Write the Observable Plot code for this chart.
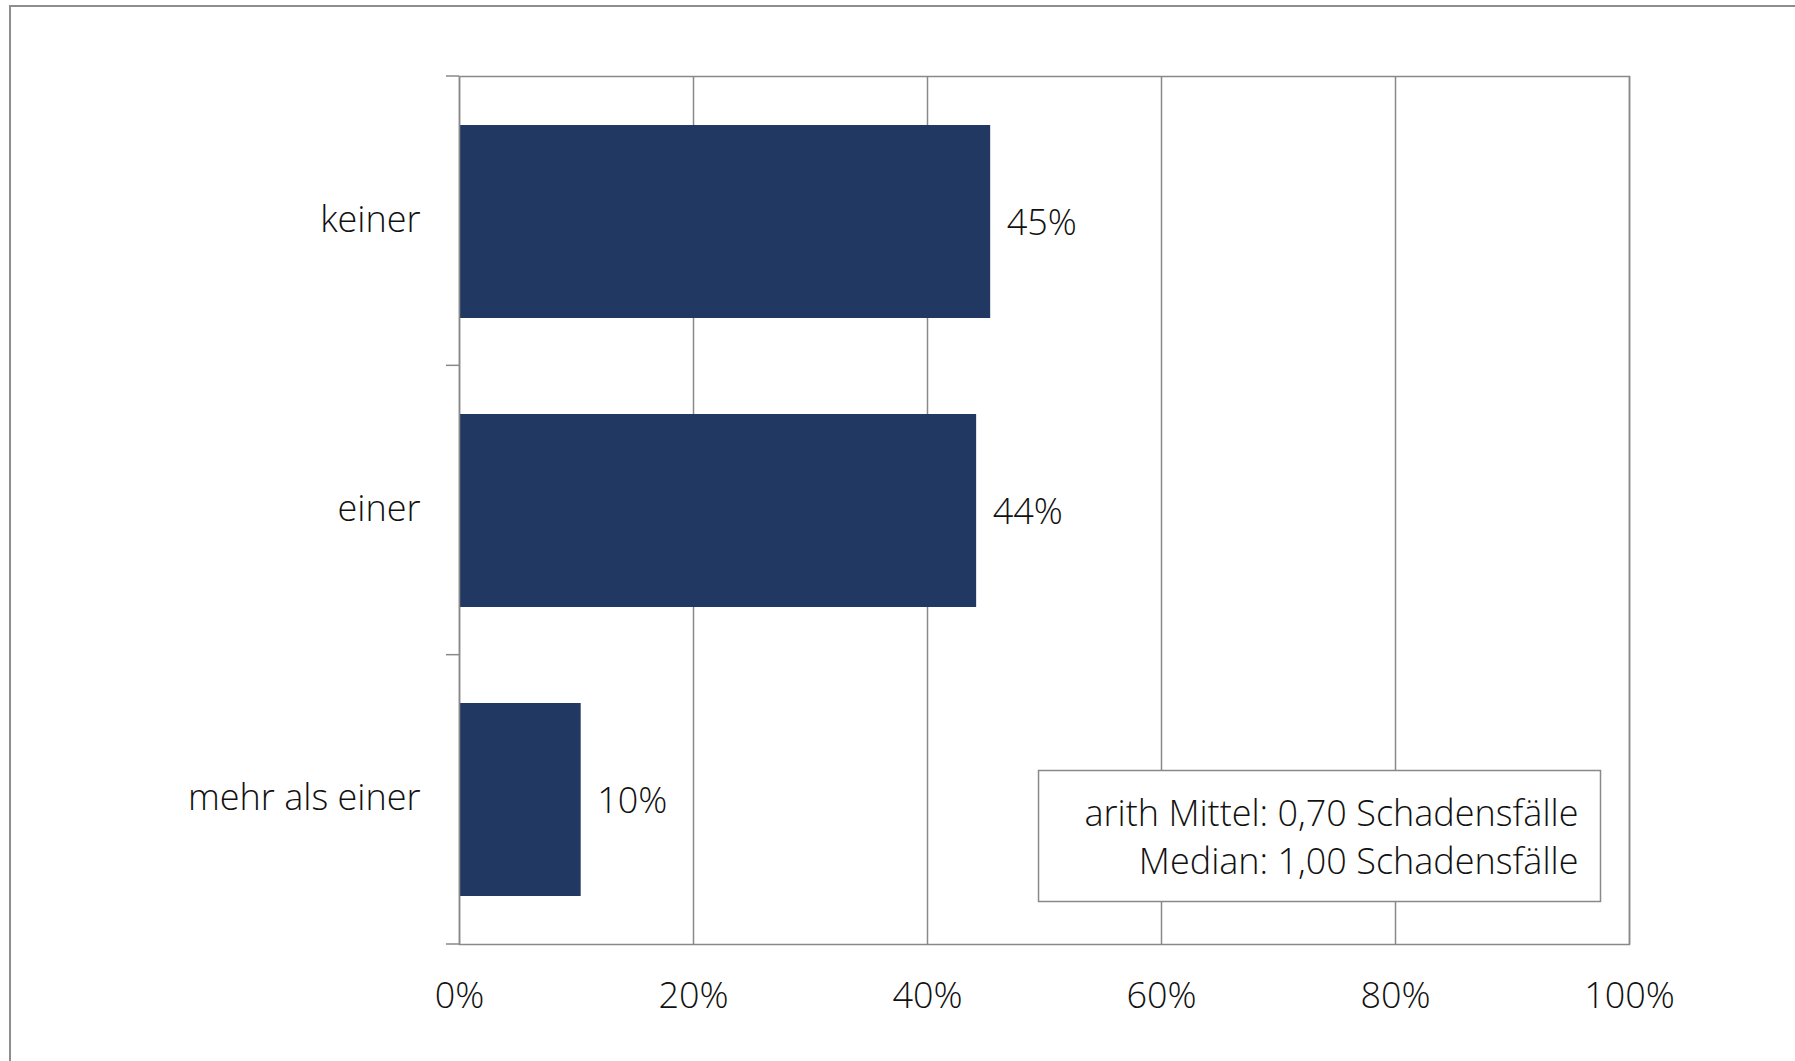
<!DOCTYPE html>
<html><head><meta charset="utf-8">
<script src="https://cdn.jsdelivr.net/npm/d3@7"></script>
<script src="https://cdn.jsdelivr.net/npm/@observablehq/plot@0.6"></script>
<style>
html,body{margin:0;padding:0;background:#fff;width:1795px;height:1061px;overflow:hidden;}
#wrap{position:relative;width:1795px;height:1061px;}
#outer{position:absolute;left:9px;top:5px;width:1900px;height:1200px;border-left:2px solid #8e8e8e;border-top:2px solid #8e8e8e;}
#chart{position:absolute;left:0;top:0;}
</style></head><body>
<div id="wrap"><div id="outer"></div><div id="chart"></div></div>
<script>
const categories = ["keiner", "einer", "mehr als einer"];
const shares = [0.454, 0.442, 0.104];
const xTicks = [0, 0.2, 0.4, 0.6, 0.8, 1];
const annotationLines = ["arith Mittel: 0,70 Schadensfälle", "Median: 1,00 Schadensfälle"];

const data = categories.map((c, i) => ({category: c, share: shares[i]}));
const pct = v => Math.round(v * 100) + "%";
const grey = "#898989";
const barColor = "#213862";
const NS = "http://www.w3.org/2000/svg";
const FS = 36;

function bandTicks(index, scales, values, dim) {
  const g = document.createElementNS(NS, "g");
  const step = (dim.height - dim.marginTop - dim.marginBottom) / categories.length;
  for (let i = 0; i <= categories.length; i++) {
    const y = dim.marginTop + i * step;
    const l = document.createElementNS(NS, "line");
    l.setAttribute("x1", dim.marginLeft - 13);
    l.setAttribute("x2", dim.marginLeft);
    l.setAttribute("y1", y);
    l.setAttribute("y2", y);
    l.setAttribute("stroke", grey);
    l.setAttribute("stroke-width", 1.5);
    g.appendChild(l);
  }
  return g;
}

const chart = Plot.plot({
  width: 1795,
  height: 1061,
  marginLeft: 459,
  marginRight: 166,
  marginTop: 76,
  marginBottom: 117,
  style: {fontFamily: "'Open Sans', sans-serif", fontSize: FS + "px", fontWeight: 300, color: "#111", background: "transparent"},
  x: {domain: [0, 1], axis: null, label: null},
  y: {domain: categories, paddingInner: 1/3, paddingOuter: 1/6, axis: null, label: null},
  marks: [
    Plot.gridX(xTicks, {stroke: grey, strokeOpacity: 1, strokeWidth: 1.5}),
    Plot.barX(data, {x: "share", y: "category", fill: barColor}),
    Plot.frame({stroke: grey, strokeWidth: 1.5}),
    bandTicks,
    Plot.axisX(xTicks, {tickSize: 0, tickPadding: 38, tickFormat: pct, fontSize: FS, label: null}),
    Plot.axisY({tickSize: 0, tickPadding: 39, fontSize: FS, label: null, dy: -2}),
    Plot.text(data, {x: "share", y: "category", text: d => pct(d.share), textAnchor: "start", dx: 16, dy: 1, fontSize: FS, fill: "#111"}),
    Plot.text([annotationLines.join("\n")], {frameAnchor: "bottom-right", text: d => d, textAnchor: "end", lineAnchor: "bottom", lineHeight: 48/FS, dx: -51, dy: -71, fontSize: FS, fill: "#111", className: "annot"})
  ]
});
document.getElementById("chart").appendChild(chart);

// box around the annotation, sized from its text (drawn inside the text's own group)
const ann = chart.querySelector("g.annot") || chart.querySelector(".annot");
if (ann) {
  const bb = ann.getBBox();
  const r = document.createElementNS(NS, "rect");
  r.setAttribute("x", bb.x - 46);
  r.setAttribute("y", bb.y - 17);
  r.setAttribute("width", bb.width + 46 + 22);
  r.setAttribute("height", bb.height + 17 + 17);
  r.setAttribute("fill", "#fff");
  r.setAttribute("stroke", grey);
  r.setAttribute("stroke-width", 1.5);
  ann.insertBefore(r, ann.firstChild);
}
</script>
</body></html>
